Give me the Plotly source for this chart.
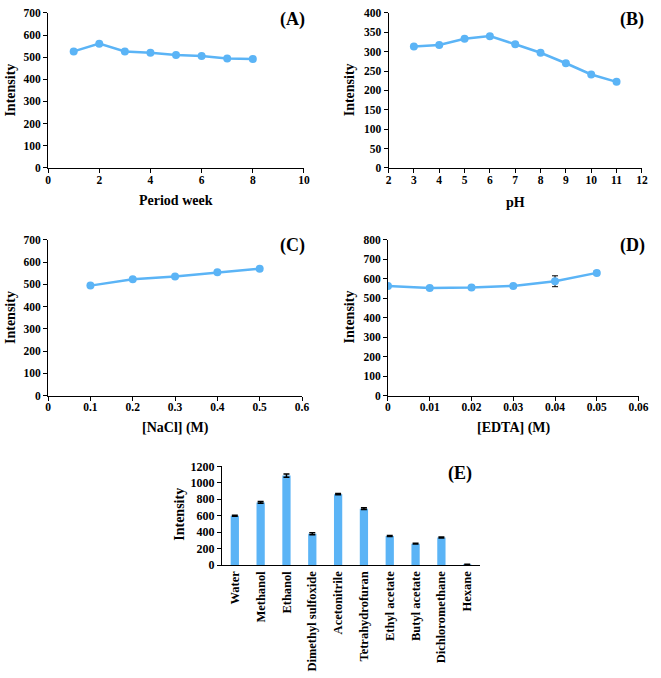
import plotly.graph_objects as go

# ---- data ----
weeks = [1, 2, 3, 4, 5, 6, 7, 8]
intensity_week = [526, 561, 526, 520, 510, 505, 494, 492]

ph = [3, 4, 5, 6, 7, 8, 9, 10, 11]
intensity_ph = [313, 317, 333, 340, 319, 297, 270, 241, 222]

nacl = [0.1, 0.2, 0.3, 0.4, 0.5]
intensity_nacl = [494, 523, 535, 554, 570]

edta = [0, 0.01, 0.02, 0.03, 0.04, 0.05]
intensity_edta = [562, 552, 555, 563, 587, 630]
err_edta = [4, 3, 3, 3, 28, 10]

solvents = ["Water", "Methanol", "Ethanol", "Dimethyl sulfoxide", "Acetonitrile",
            "Tetrahydrofuran", "Ethyl acetate", "Butyl acetate", "Dichloromethane", "Hexane"]
intensity_solvent = [600, 762, 1088, 382, 862, 686, 356, 262, 337, 8]
err_solvent = [6, 10, 20, 12, 8, 10, 6, 5, 6, 3]

# tick labels
xticks_A = ["0", "2", "4", "6", "8", "10"]
yticks_A = ["0", "100", "200", "300", "400", "500", "600", "700"]
xticks_B = ["2", "3", "4", "5", "6", "7", "8", "9", "10", "11", "12"]
yticks_B = ["0", "50", "100", "150", "200", "250", "300", "350", "400"]
xticks_C = ["0", "0.1", "0.2", "0.3", "0.4", "0.5", "0.6"]
yticks_C = ["0", "100", "200", "300", "400", "500", "600", "700"]
xticks_D = ["0", "0.01", "0.02", "0.03", "0.04", "0.05", "0.06"]
yticks_D = ["0", "100", "200", "300", "400", "500", "600", "700", "800"]
yticks_E = ["0", "200", "400", "600", "800", "1000", "1200"]

BLUE = "#5BB4F6"
FONT = "Liberation Serif"
H = 678
W = 661

fig = go.Figure()

def line_trace(x, y, xa, ya, err=None):
    kw = {}
    if err is not None:
        kw["error_y"] = dict(type="data", array=err, color="black", thickness=1, width=3)
    fig.add_trace(go.Scatter(x=x, y=y, mode="lines+markers", xaxis=xa, yaxis=ya,
                             line=dict(color=BLUE, width=2.5),
                             marker=dict(color=BLUE, size=8), showlegend=False, **kw))

line_trace(weeks, intensity_week, "x", "y")
line_trace(ph, intensity_ph, "x2", "y2")
line_trace(nacl, intensity_nacl, "x3", "y3")
line_trace(edta, intensity_edta, "x4", "y4", err_edta)

fig.add_trace(go.Bar(x=solvents, y=intensity_solvent, xaxis="x5", yaxis="y5",
                     marker=dict(color=BLUE, line=dict(width=0)), width=0.32,
                     error_y=dict(type="data", array=err_solvent, color="black", thickness=1.5, width=3),
                     showlegend=False))

def px_x(p):
    return p / W

def px_y(p):
    return 1 - p / H

def bold(labels):
    return ["<b>%s</b>" % t for t in labels]

axis_common = dict(showline=True, linecolor="black", linewidth=1, ticks="outside",
                   ticklen=4, tickcolor="black", showgrid=False, zeroline=False)

def add_axes(n, xdom, ydom, xlabels, yrange, ylabels, tickfs=11.5):
    sx = "" if n == 1 else str(n)
    tf = dict(family=FONT, size=tickfs, color="black")
    xa = dict(axis_common, domain=xdom, anchor="y" + sx, tickfont=tf)
    if xlabels is not None:
        xv = [float(t) for t in xlabels]
        xa.update(range=[xv[0], xv[-1]], tickmode="array", tickvals=xv, ticktext=bold(xlabels),
                  ticklabelstandoff=-3)
    yv = [float(t) for t in ylabels]
    ya = dict(axis_common, domain=ydom, anchor="x" + sx, range=yrange, tickmode="array",
              tickvals=yv, ticktext=bold(ylabels), tickfont=tf)
    fig.update_layout({"xaxis" + sx: xa, "yaxis" + sx: ya})

yA = [px_y(164.3), px_y(6)]
yC = [px_y(396.7), px_y(237.7)]
add_axes(1, [px_x(46), px_x(307)], yA, xticks_A, [0, 700], yticks_A)
add_axes(2, [px_x(393.3), px_x(651.7)], yA, xticks_B, [0, 400], yticks_B)
add_axes(3, [px_x(46), px_x(305)], yC, xticks_C, [0, 700], yticks_C)
add_axes(4, [px_x(392.7), px_x(648.3)], yC, xticks_D, [0, 800], yticks_D)
add_axes(5, [px_x(223.3), px_x(486.7)], [px_y(570), px_y(469)], None, [0, 1200], yticks_E, tickfs=12)
fig.update_layout(xaxis5=dict(range=[-0.5, 9.5], tickangle=-90, ticks="", type="category",
                              tickmode="array", tickvals=solvents, ticktext=bold(solvents),
                              tickfont=dict(family=FONT, size=12.5, color="black")))

anns = []
def ann(text, x, y, size, angle=0):
    anns.append(dict(text="<b>%s</b>" % text, x=px_x(x), y=px_y(y), xref="paper", yref="paper",
                     showarrow=False, textangle=angle, xanchor="center", yanchor="middle",
                     font=dict(family=FONT, size=size, color="black")))

# y titles
ann("Intensity", 7.5, 85, 14, -90)
ann("Intensity", 353, 85, 14, -90)
ann("Intensity", 7.7, 317, 14, -90)
ann("Intensity", 353, 317, 14, -90)
ann("Intensity", 180, 518, 14, -90)
# x titles
ann("Period week", 176, 198, 14)
ann("pH", 523, 200, 14)
ann("[NaCl] (M)", 176, 430, 14)
ann("[EDTA] (M)", 521, 430, 14)
# panel labels
ann("(A)", 295, 13, 18)
ann("(B)", 642, 13, 18)
ann("(C)", 295, 244, 18)
ann("(D)", 642, 244, 18)
ann("(E)", 466, 476, 18)

fig.update_layout(width=W, height=H, margin=dict(l=0, r=0, t=0, b=0),
                  paper_bgcolor="white", plot_bgcolor="white",
                  font=dict(family=FONT, color="black"), annotations=anns)

fig.write_html("out.html", config={"displayModeBar": False},
               post_script="document.body.style.margin='0';document.body.style.overflow='hidden';")
